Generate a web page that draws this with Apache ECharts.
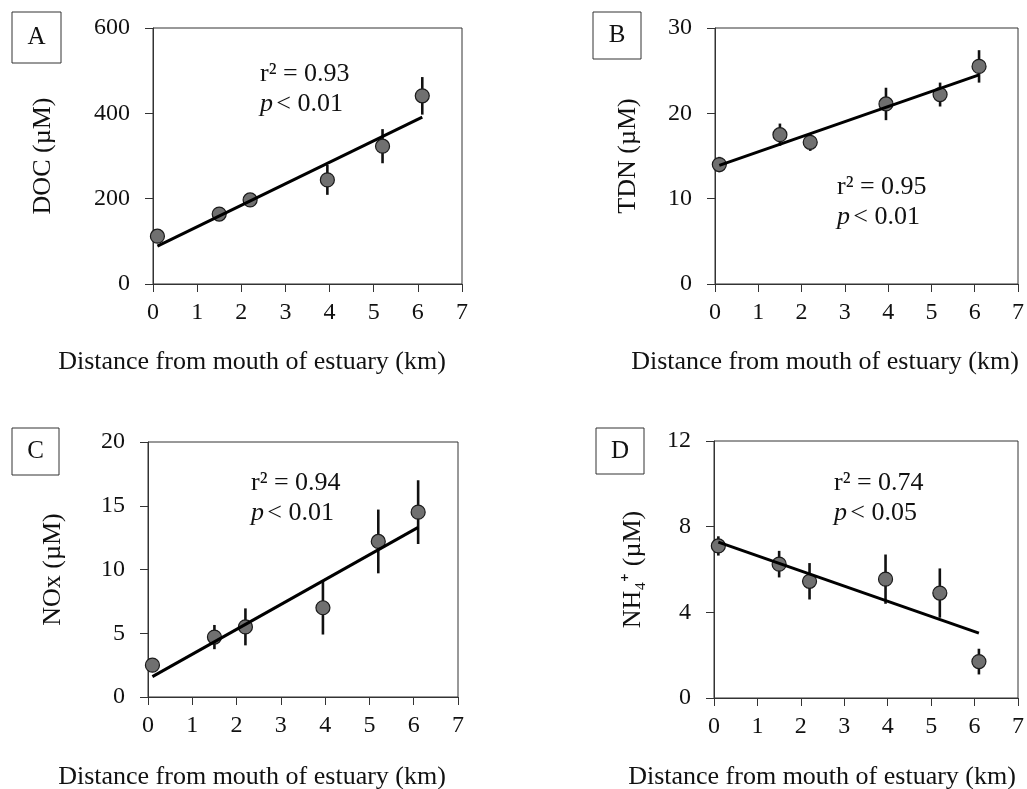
<!DOCTYPE html>
<html>
<head>
<meta charset="utf-8">
<script src="https://cdn.jsdelivr.net/npm/echarts@6/dist/echarts.min.js"></script>
<style>
html,body{margin:0;padding:0;background:#fff;}
#chart{width:1027px;height:789px;}
</style>
</head>
<body>
<div id="chart"></div>
<script>
// ---- data ----
const distances = [0.1, 1.5, 2.2, 3.95, 5.2, 6.1];
const docValues = [112, 164, 197, 244, 323, 441];
const docErrors = [8, 10, 13, 35, 40, 44];
const tdnValues = [14.0, 17.5, 16.6, 21.1, 22.2, 25.5];
const tdnErrors = [0.9, 1.3, 1.0, 1.9, 1.4, 1.9];
const noxValues = [2.5, 4.7, 5.5, 7.0, 12.2, 14.5];
const noxErrors = [0.3, 0.95, 1.45, 2.1, 2.5, 2.5];
const nh4Values = [7.1, 6.25, 5.45, 5.55, 4.9, 1.7];
const nh4Errors = [0.45, 0.62, 0.85, 1.15, 1.15, 0.6];
const fitX = [0.1, 6.1];
const docFit = [89, 391];
const tdnFit = [13.9, 24.5];
const noxFit = [1.6, 13.3];
const nh4Fit = [7.28, 3.03];
const panelLetters = ['A', 'B', 'C', 'D'];
const yNames = ['DOC (µM)', 'TDN (µM)', 'NOx (µM)', 'NH₄⁺ (µM)'];
const yMax = [600, 30, 20, 12];
const yStep = [200, 10, 5, 4];
const rSquared = ['r² = 0.93', 'r² = 0.95', 'r² = 0.94', 'r² = 0.74'];
const pValues = ['< 0.01', '< 0.01', '< 0.01', '< 0.05'];
const xTitle = 'Distance from mouth of estuary (km)';

// ---- layout ----
const FONT = '"Liberation Serif", "Times New Roman", serif';
const grids = [
  {left: 153, top: 28, width: 309, height: 256},
  {left: 715, top: 28, width: 304, height: 256},
  {left: 148, top: 442, width: 310, height: 255},
  {left: 714, top: 441, width: 307, height: 257}
];
const nameGaps = [97, 74, 82, 68];
const boxes = [[12, 12, 49, 51], [593, 12, 48, 47], [12, 428, 47, 47], [596, 428, 48, 46]];
const xTitlePos = [[252, 362], [825, 362], [252, 777], [822, 777]];
const statPos = [[260, 74, 104], [837, 187, 217], [251, 483, 513], [834, 483, 513]];

const valueSets = [docValues, tdnValues, noxValues, nh4Values];
const errorSets = [docErrors, tdnErrors, noxErrors, nh4Errors];
const fitSets = [docFit, tdnFit, noxFit, nh4Fit];

const axisColor = '#333';
const option = {
  backgroundColor: '#fff',
  animation: false,
  grid: grids.map(g => Object.assign({show: true, borderColor: axisColor, borderWidth: 1, backgroundColor: 'transparent', containLabel: false}, g)),
  xAxis: grids.map((g, i) => ({
    type: 'value', gridIndex: i, min: 0, max: 7, interval: 1,
    axisLine: {show: true, onZero: false, lineStyle: {color: axisColor, width: 1}},
    axisTick: {show: true, length: 8, lineStyle: {color: axisColor}},
    splitLine: {show: false},
    axisLabel: {fontFamily: FONT, fontSize: 24, color: '#111', margin: 17}
  })),
  yAxis: grids.map((g, i) => ({
    type: 'value', gridIndex: i, min: 0, max: yMax[i], interval: yStep[i],
    name: yNames[i], nameLocation: 'middle', nameGap: nameGaps[i], nameRotate: 90,
    nameTextStyle: {fontFamily: FONT, fontSize: 26, color: '#111'},
    axisLine: {show: true, onZero: false, lineStyle: {color: axisColor, width: 1}},
    axisTick: {show: true, length: 8, lineStyle: {color: axisColor}},
    splitLine: {show: false},
    axisLabel: {fontFamily: FONT, fontSize: 24, color: '#111', margin: 23}
  })),
  series: [],
  graphic: []
};

for (let i = 0; i < 4; i++) {
  const vals = valueSets[i], errs = errorSets[i], fit = fitSets[i];
  option.series.push({
    type: 'custom', xAxisIndex: i, yAxisIndex: i, z: 2,
    data: distances.map((x, k) => [x, vals[k], errs[k]]),
    renderItem: function (params, api) {
      const x = api.value(0), y = api.value(1), e = api.value(2);
      const p1 = api.coord([x, y - e]);
      const p2 = api.coord([x, y + e]);
      return {type: 'line', shape: {x1: p1[0], y1: p1[1], x2: p2[0], y2: p2[1]},
              style: {stroke: '#111', lineWidth: 2.6}};
    }
  });
  option.series.push({
    type: 'scatter', xAxisIndex: i, yAxisIndex: i, z: 3,
    symbol: 'circle', symbolSize: 14,
    itemStyle: {color: '#707070', borderColor: '#1a1a1a', borderWidth: 1.2, opacity: 1},
    data: distances.map((x, k) => [x, vals[k]])
  });
  option.series.push({
    type: 'line', xAxisIndex: i, yAxisIndex: i, z: 4,
    symbol: 'none', lineStyle: {color: '#000', width: 3},
    data: fitX.map((x, k) => [x, fit[k]])
  });

  const b = boxes[i];
  option.graphic.push({type: 'rect', shape: {x: b[0], y: b[1], width: b[2], height: b[3]},
    style: {fill: '#fff', stroke: '#333', lineWidth: 1}});
  option.graphic.push({type: 'text', x: b[0] + b[2] / 2, y: b[1] + b[3] / 2,
    style: {text: panelLetters[i], font: '25px ' + FONT, fill: '#111', align: 'center', verticalAlign: 'middle'}});
  const t = xTitlePos[i];
  option.graphic.push({type: 'text', x: t[0], y: t[1],
    style: {text: xTitle, font: '26px ' + FONT, fill: '#111', align: 'center', verticalAlign: 'middle'}});
  const s = statPos[i];
  option.graphic.push({type: 'text', x: s[0], y: s[1],
    style: {text: rSquared[i], font: '26px ' + FONT, fill: '#111', align: 'left', verticalAlign: 'middle'}});
  option.graphic.push({type: 'text', x: s[0], y: s[2],
    style: {rich: {it: {font: 'italic 26px ' + FONT, fill: '#111'}, n: {font: '26px ' + FONT, fill: '#111'}},
            text: '{it|p} {n|' + pValues[i] + '}', align: 'left', verticalAlign: 'middle'}});
}

const chart = echarts.init(document.getElementById('chart'), null, {renderer: 'canvas'});
chart.setOption(option);
</script>
</body>
</html>
